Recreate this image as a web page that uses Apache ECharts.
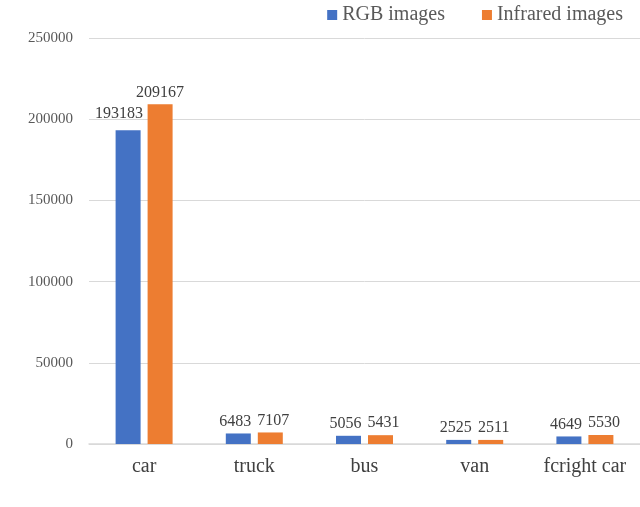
<!doctype html>
<html>
<head>
<meta charset="utf-8">
<title>chart</title>
<script src="https://cdn.jsdelivr.net/npm/echarts@6/dist/echarts.min.js"></script>
<style>
  html, body { margin: 0; padding: 0; background: #fff; }
  #main { width: 640px; height: 507px; }
</style>
</head>
<body>
<div id="main"></div>
<script>
  var categories = ['car', 'truck', 'bus', 'van', 'fcright car'];
  var rgbValues = [193183, 6483, 5056, 2525, 4649];
  var infraredValues = [209167, 7107, 5431, 2511, 5530];
  var seriesNames = ['RGB images', 'Infrared images'];

  var serif = '"Liberation Serif", "Times New Roman", serif';
  var chart = echarts.init(document.getElementById('main'));

  // nudge the value labels apart like the original does
  function labelled(values, side) {
    return values.map(function (v, i) {
      if (i === 0) {
        return side < 0 ? { value: v, label: { offset: [-9, -4] } } : v;
      }
      return { value: v, label: { offset: [side * 3, 0] } };
    });
  }

  var barLabel = { show: true, position: 'top', distance: 4, fontFamily: serif, fontSize: 16, color: '#404040' };

  chart.setOption({
    animation: false,
    color: ['#4472C4', '#ED7D31'],
    legend: {
      top: 0,
      right: 12,
      itemWidth: 10,
      itemHeight: 10,
      itemGap: 37,
      icon: 'rect',
      textStyle: { fontFamily: serif, fontSize: 20, color: '#595959' },
      data: seriesNames
    },
    grid: { left: 89, right: 0, top: 38, bottom: 63 },
    xAxis: {
      type: 'category',
      data: categories,
      axisTick: { show: false },
      axisLine: { lineStyle: { color: '#d9d9d9', width: 1.5 } },
      axisLabel: { fontFamily: serif, fontSize: 20, color: '#404040', margin: 13 }
    },
    yAxis: {
      type: 'value',
      min: 0,
      max: 250000,
      interval: 50000,
      axisLine: { show: false },
      axisTick: { show: false },
      splitLine: { lineStyle: { color: '#d9d9d9' } },
      axisLabel: {
        fontFamily: serif, fontSize: 15, color: '#595959', margin: 16,
        formatter: function (v) { return String(v); }
      }
    },
    series: [{
      name: seriesNames[0],
      type: 'bar',
      barWidth: 25,
      barGap: '28%',
      label: barLabel,
      data: labelled(rgbValues, -1)
    }, {
      name: seriesNames[1],
      type: 'bar',
      barWidth: 25,
      label: barLabel,
      data: labelled(infraredValues, 1)
    }]
  });
</script>
</body>
</html>
